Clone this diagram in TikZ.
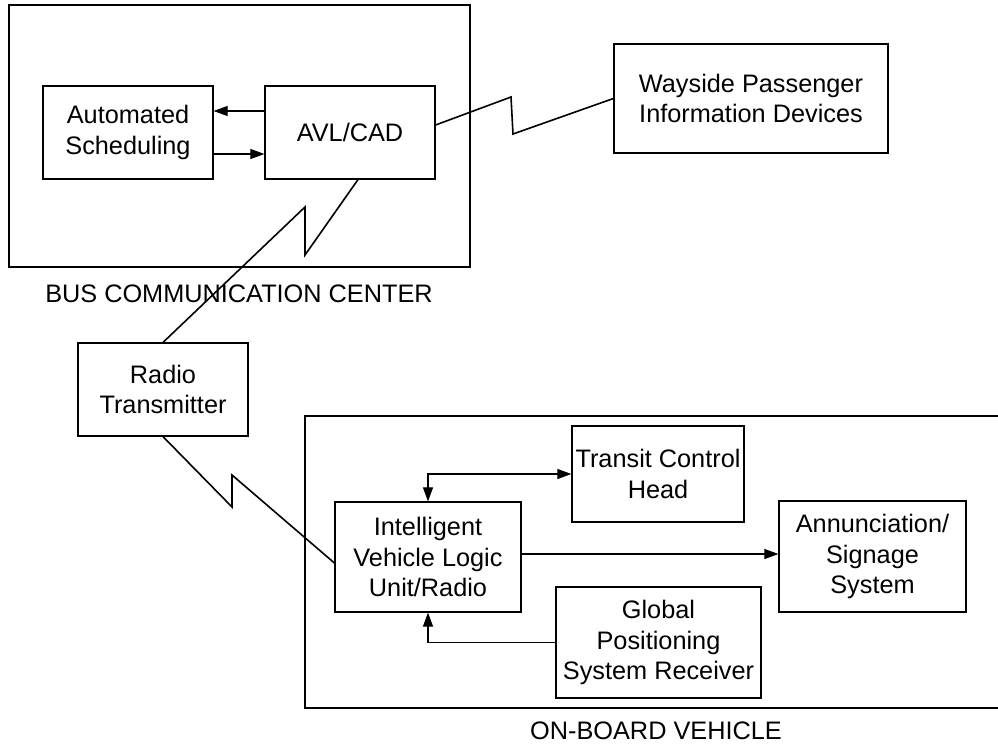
\documentclass[tikz,border=0pt]{standalone}
\usepackage{fontspec}
\setmainfont{Liberation Sans}
\usetikzlibrary{arrows.meta,calc}
\begin{document}
\begin{tikzpicture}[x=1pt,y=-1pt,
  every node/.style={font=\fontsize{25.3}{30.5}\selectfont},
  blk/.style={draw,line width=1.2pt,rectangle,inner sep=0pt,align=center},
  frame/.style={draw,line width=1.2pt},
  conn/.style={line width=1.1pt,-{Triangle[length=14pt,width=10pt]}},
  bconn/.style={line width=1.1pt,{Triangle[length=14pt,width=10pt]}-{Triangle[length=14pt,width=10pt]}},
  zig/.style={line width=1.6pt,line join=miter}
]
\useasboundingbox (0,0) rectangle (998,747);
% frames
\draw[frame] (9,5) rectangle (470,267);
\draw[frame] (1002,416) -- (305,416) -- (305,708) -- (1002,708);
% blocks
\node[blk,minimum width=170pt,minimum height=93pt] (auto) at (128,132.5) {Automated\\Scheduling};
\node[blk,minimum width=170pt,minimum height=93pt] (avl) at (350,132.5) {AVL/CAD};
\node[blk,minimum width=274pt,minimum height=109pt] (way) at (751,98.5) {Wayside Passenger\\Information Devices};
\node[blk,minimum width=170pt,minimum height=93pt] (radio) at (163,389.5) {Radio\\Transmitter};
\node[blk,minimum width=186pt,minimum height=110pt] (ivlu) at (428,557) {Intelligent\\Vehicle Logic\\Unit/Radio};
\node[blk,minimum width=172pt,minimum height=96pt] (tch) at (658,474) {Transit Control\\Head};
\node[blk,minimum width=187pt,minimum height=111pt] (ann) at (872.5,556.5) {Annunciation/\\Signage\\System};
\node[blk,minimum width=205pt,minimum height=111pt] (gps) at (658.5,642.5) {Global\\Positioning\\System Receiver};
% labels
\node (bcclabel) at (239,294) {BUS COMMUNICATION CENTER};
\node (oblabel) at (656,731) {ON-BOARD VEHICLE};
% arrows
\draw[conn] (avl.west |- 0,111) -- (auto.east |- 0,111);
\draw[conn] (auto.east |- 0,154) -- (avl.west |- 0,154);
\draw[conn] (ivlu.east |- 0,554) -- (ann.west |- 0,554);
\draw[bconn] (ivlu.north) |- (tch.west);
\draw[conn] (gps.west) -| (ivlu.south);
% zigzag links
\coordinate (w1) at (511,97);
\coordinate (w2) at (513,134);
\draw[zig] (avl.east |- 0,125) -- (w1) -- (w2) -- (way.west);
\coordinate (r1) at (305,255);
\coordinate (r2) at (305,207);
\draw[zig] (avl.south -| 358,0) -- (r1) -- (r2) -- (radio.north);
\coordinate (v1) at (232,507);
\coordinate (v2) at (232,475);
\draw[zig] (radio.south) -- (v1) -- (v2) -- (ivlu.west |- 0,563);
\end{tikzpicture}
\end{document}
